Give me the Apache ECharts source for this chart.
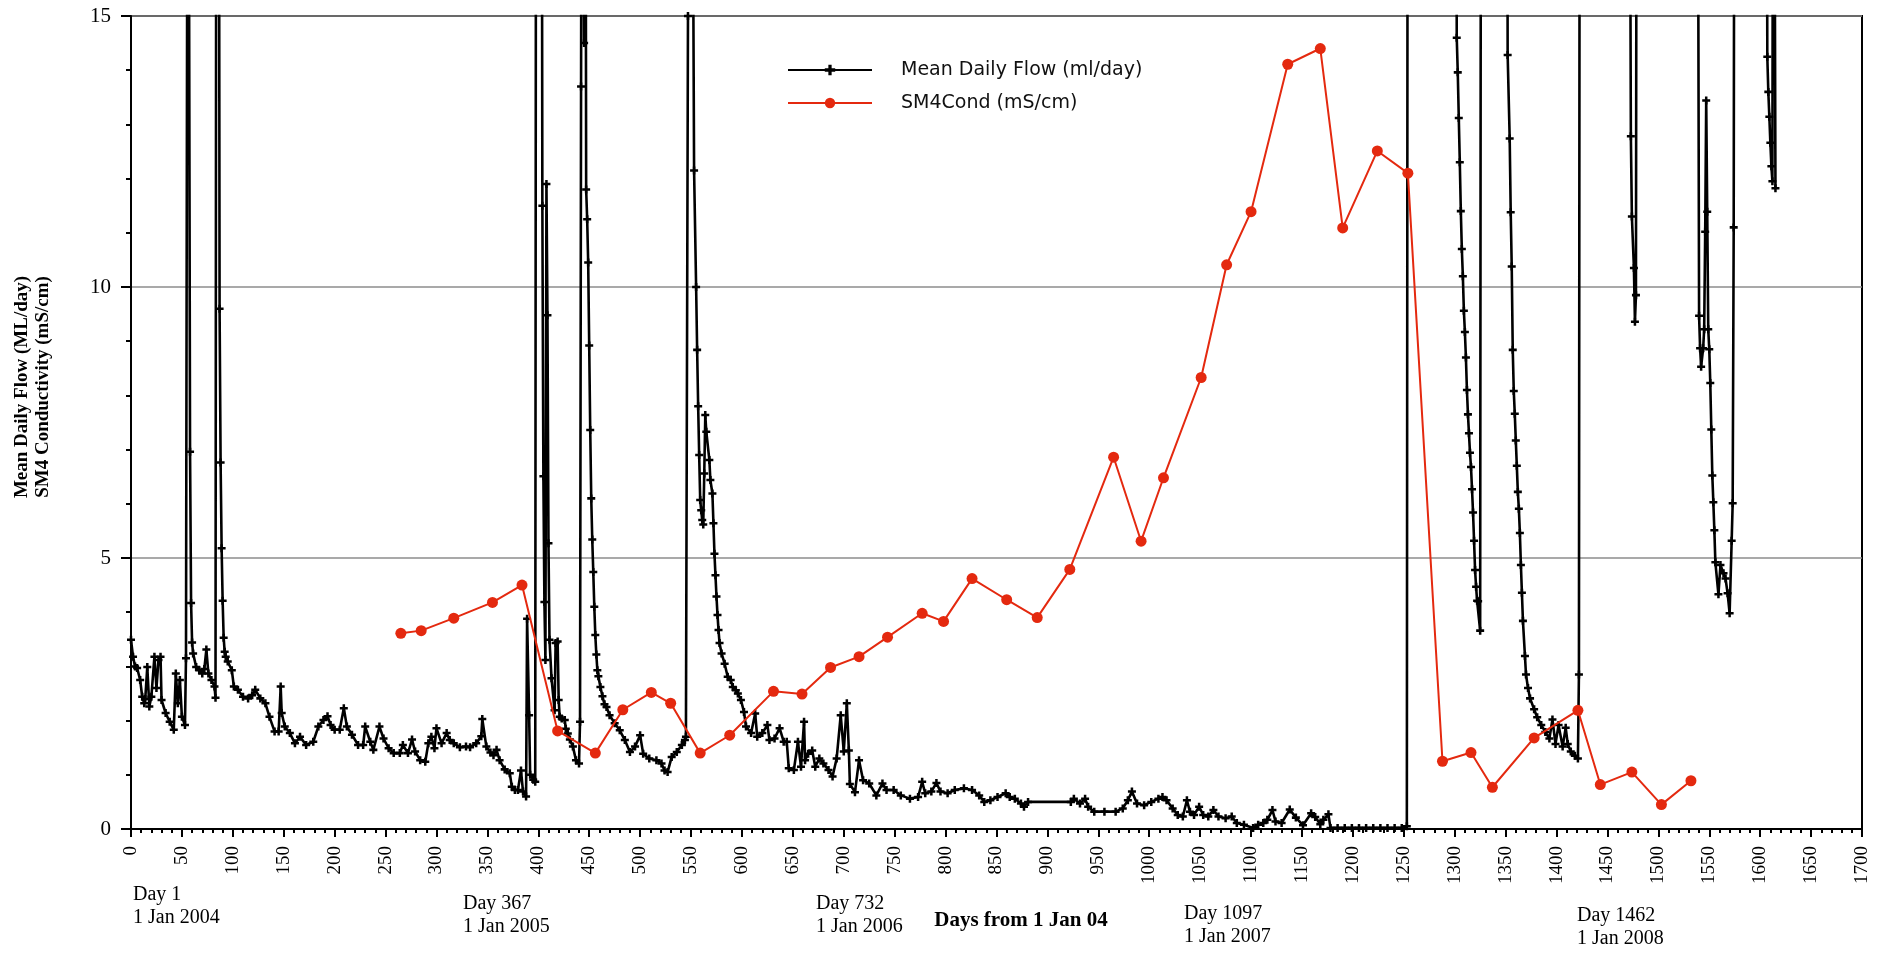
<!DOCTYPE html>
<html>
<head>
<meta charset="utf-8">
<title>Mean Daily Flow and SM4 Conductivity</title>
<script src="https://cdn.jsdelivr.net/npm/echarts@6/dist/echarts.min.js"></script>
<style>
  html, body { margin: 0; padding: 0; background: #ffffff; }
  #chart { width: 1887px; height: 953px; }
</style>
</head>
<body>
<div id="chart"></div>
<script>
// Day number (from 1 Jan 2004) and mean daily flow (ML/day).
// Values above 15 run off the top of the plot and are clipped.
const flowDays = [
  0,2,4,6,9,11,13,14,16,18,20,23,25,27,29,30,34,38,42,44,46,48,50,53,54,56,58,59,60,61,64,67,70,72,74,76,79,82,83,84,86,87,88,89,90,91,92,93,95,99,
  101,105,110,115,119,122,127,132,136,141,145,147,148,151,156,161,166,172,179,184,189,193,196,200,205,209,212,217,223,228,230,235,238,244,248,253,258,264,267,272,276,279,284,289,292,295,298,300,305,310,313,317,323,329,333,339,344,345,349,353,356,359,362,367,372,374,377,380,383,385,388,389,391,392,395,397,
  398,403,404,405,406,407,408,409,410,411,413,416,417,419,420,421,423,426,427,429,431,434,437,440,441,442,443,445,446,447,448,449,450,451,452,453,454,455,456,457,458,459,461,463,465,467,470,475,480,485,490,495,500,503,509,516,521,524,527,531,536,541,544,545,547,550,553,555,556,557,558,559,560,561,562,563,564,565,568,569,571,572,573,574,575,576,577,578,580,583,586,589,591,594,596,599,
  602,604,609,613,615,620,625,627,632,637,641,644,646,651,655,658,661,662,665,669,672,676,680,685,689,693,697,700,703,705,706,711,715,719,725,732,738,742,749,756,765,773,777,780,786,791,795,802,809,818,826,833,838,844,851,859,863,868,874,877,881,923,926,932,937,940,946,956,967,974,979,983,988,995,1002,1009,1013,1017,1023,1028,1033,1037,1040,1044,1049,1053,1058,1063,1068,1075,1081,1086,1093,1102,1107,1112,1116,1121,1124,1130,1138,1144,1151,1159,1163,1168,1171,1176,1178,1185,1192,1199,1206,1213,1220,1227,1234,1241,1248,1253,
  1254,1301,1302,1303,1304,1305,1306,1307,1308,1309,1310,1311,1312,1313,1314,1315,1316,1317,1318,1319,1320,1321,1322,1323,1325,1326,1351,1352,1354,1355,1356,1357,1358,1359,1360,1361,1362,1363,1364,1365,1366,1367,1369,1370,1372,1374,1378,1381,1385,1389,1393,1396,1399,1402,1406,1409,1411,1414,1418,1421,1422,1423,1471,1473,1474,1476,1477,1478,1479,1538,1540,1541,1542,1544,1545,1546,1547,1548,1549,1550,1551,1552,1553,1554,1555,1556,1559,1561,1564,1566,1568,1570,1572,1573,1574,1575,1606,1607,1608,1609,1610,1611,1612,1613,1615
];
const flowValues = [
  3.49,3.18,3.0,2.97,2.75,2.44,2.32,2.40,2.99,2.26,2.44,3.18,2.60,3.12,3.18,2.38,2.14,1.98,1.83,2.87,2.32,2.75,2.07,1.92,3.15,25,6.96,4.17,3.44,3.24,2.99,2.93,2.87,2.95,3.31,2.87,2.75,2.63,2.42,25,25,9.6,6.76,5.18,4.21,3.53,3.27,3.18,3.09,2.93,
  2.63,2.57,2.44,2.41,2.47,2.57,2.41,2.32,2.07,1.80,1.80,2.63,2.14,1.89,1.77,1.58,1.70,1.55,1.61,1.89,2.01,2.08,1.92,1.83,1.83,2.23,1.89,1.74,1.55,1.55,1.89,1.61,1.46,1.89,1.67,1.49,1.40,1.40,1.55,1.40,1.65,1.43,1.27,1.24,1.58,1.70,1.49,1.86,1.58,1.77,1.64,1.58,1.51,1.52,1.51,1.58,1.71,2.03,1.52,1.41,1.36,1.46,1.27,1.10,1.03,0.78,0.72,0.72,1.08,0.69,0.60,3.88,2.10,1.00,0.91,0.87,
  25,25,11.5,6.51,4.19,3.12,11.9,9.48,5.27,3.49,2.78,2.19,3.43,3.46,2.38,2.07,2.04,2.01,1.85,1.76,1.65,1.52,1.27,1.21,1.98,13.7,25,14.5,25,11.8,11.25,10.45,8.92,7.36,6.10,5.34,4.74,4.10,3.58,3.22,2.93,2.82,2.62,2.45,2.30,2.25,2.10,1.95,1.82,1.64,1.42,1.52,1.73,1.39,1.30,1.27,1.21,1.08,1.05,1.33,1.42,1.55,1.64,1.70,15.0,25,12.15,10.0,8.84,7.80,6.90,6.07,5.88,5.70,5.62,6.56,7.64,7.33,6.81,6.44,6.19,5.64,5.08,4.68,4.29,3.95,3.67,3.43,3.24,3.05,2.81,2.75,2.62,2.56,2.50,2.38,
  2.16,1.89,1.77,2.13,1.70,1.77,1.92,1.64,1.67,1.86,1.61,1.61,1.12,1.09,1.61,1.15,1.98,1.27,1.39,1.45,1.15,1.30,1.21,1.09,0.97,1.30,2.10,1.43,2.32,1.45,0.83,0.68,1.27,0.90,0.84,0.62,0.84,0.72,0.72,0.62,0.56,0.59,0.87,0.66,0.69,0.85,0.69,0.66,0.72,0.75,0.72,0.62,0.50,0.53,0.59,0.66,0.59,0.56,0.47,0.41,0.50,0.50,0.56,0.47,0.56,0.41,0.32,0.32,0.32,0.38,0.53,0.69,0.47,0.44,0.50,0.56,0.59,0.53,0.38,0.26,0.23,0.53,0.32,0.26,0.41,0.26,0.23,0.35,0.23,0.20,0.23,0.11,0.08,0.02,0.08,0.11,0.17,0.35,0.14,0.11,0.36,0.21,0.07,0.29,0.22,0.09,0.17,0.27,0.02,0.02,0.02,0.02,0.02,0.02,0.02,0.02,0.02,0.02,0.02,0.05,
  25,25,14.6,13.96,13.12,12.3,11.4,10.7,10.2,9.56,9.17,8.70,8.10,7.65,7.30,6.94,6.68,6.27,5.84,5.32,4.78,4.47,4.21,4.20,3.66,25,25,14.28,12.74,11.38,10.38,8.84,8.08,7.66,7.17,6.70,6.22,5.91,5.46,4.87,4.36,3.84,3.19,2.85,2.60,2.41,2.21,2.06,1.92,1.79,1.67,2.02,1.57,1.92,1.52,1.87,1.57,1.43,1.35,1.30,2.85,25,25,12.78,11.30,10.35,9.36,9.85,25,25,9.47,8.87,8.53,8.87,9.22,11.02,13.44,11.39,9.22,8.85,8.23,7.37,6.52,6.03,5.51,4.92,4.33,4.87,4.72,4.62,4.35,3.98,5.32,6.01,11.10,25,25,14.25,13.60,13.14,12.66,12.23,11.95,25,11.82
];

// SM4 conductivity samples (mS/cm) by day number.
const condDays = [265,285,317,355,384,419,456,483,511,530,559,588,631,659,687,715,743,777,798,826,860,890,922,965,992,1014,1051,1076,1100,1136,1168,1190,1224,1254,1288,1316,1337,1378,1421,1443,1474,1503,1532];
const condValues = [3.61,3.66,3.89,4.18,4.50,1.81,1.40,2.20,2.52,2.32,1.40,1.73,2.54,2.49,2.98,3.18,3.54,3.98,3.83,4.62,4.23,3.90,4.79,6.86,5.31,6.48,8.33,10.41,11.39,14.11,14.40,11.09,12.51,12.10,1.25,1.41,0.77,1.68,2.19,0.82,1.05,0.45,0.89];

// Calendar markers under the axis.
const yearNotes = [
  { line1: 'Day 1',    line2: '1 Jan 2004' },
  { line1: 'Day 367',  line2: '1 Jan 2005' },
  { line1: 'Day 732',  line2: '1 Jan 2006' },
  { line1: 'Day 1097', line2: '1 Jan 2007' },
  { line1: 'Day 1462', line2: '1 Jan 2008' }
];

const seriesNames = ['Mean Daily Flow (ml/day)', 'SM4Cond (mS/cm)'];
const yTitleLines = ['Mean Daily Flow (ML/day)', 'SM4 Conductivity (mS/cm)'];
const xTitle = 'Days from 1 Jan 04';

const SERIF = '"Liberation Serif", "Times New Roman", serif';
const SANS = '"DejaVu Sans", sans-serif';
const RED = '#e4290f';
const PLUS = 'path://M2.4,0H4.6V2.4H7V4.6H4.6V7H2.4V4.6H0V2.4H2.4Z';

const flowData = flowDays.map((d, i) => [d, flowValues[i]]);
const condData = condDays.map((d, i) => [d, condValues[i]]);

// Placement of the calendar notes (pixel anchors below the axis).
const notePos = [[133, 883], [463, 892], [816, 892], [1184, 902], [1577, 904]];
const noteGraphics = [];
yearNotes.forEach((n, i) => {
  noteGraphics.push({
    type: 'text', left: notePos[i][0], top: notePos[i][1], silent: true,
    style: { text: n.line1 + '\n' + n.line2, font: '20px ' + SERIF, lineHeight: 23, fill: '#000' }
  });
});

const chart = echarts.init(document.getElementById('chart'), null, { renderer: 'canvas' });
chart.setOption({
  animation: false,
  backgroundColor: '#ffffff',
  grid: {
    left: 131, right: 25, top: 16, bottom: 124,
    show: true, borderColor: '#000', borderWidth: 2, backgroundColor: 'transparent'
  },
  legend: {
    orient: 'vertical',
    left: 782, top: 55,
    itemWidth: 84, itemHeight: 13, itemGap: 13,
    data: seriesNames,
    textStyle: { fontFamily: SANS, fontSize: 19, lineHeight: 20, color: '#111', padding: [0, 0, 0, 24] }
  },
  xAxis: {
    type: 'value', min: 0, max: 1700, interval: 50,
    axisLine: { show: true, lineStyle: { color: '#000', width: 2 } },
    axisTick: { show: true, length: 8, lineStyle: { color: '#000', width: 2 } },
    minorTick: { show: true, splitNumber: 5, length: 4, lineStyle: { color: '#000', width: 2 } },
    splitLine: { show: false },
    axisLabel: { rotate: 90, margin: 17, fontFamily: SERIF, fontSize: 19, color: '#000', formatter: v => String(v) }
  },
  yAxis: {
    type: 'value', min: 0, max: 15, interval: 5,
    axisLine: { show: true, lineStyle: { color: '#000', width: 2 } },
    axisTick: { show: true, length: 10, lineStyle: { color: '#000', width: 2 } },
    minorTick: { show: true, splitNumber: 5, length: 5, lineStyle: { color: '#000', width: 2 } },
    splitLine: { show: true, lineStyle: { color: '#8c8c8c', width: 1.5 } },
    axisLabel: { margin: 20, fontFamily: SERIF, fontSize: 21, color: '#000', formatter: v => String(v) }
  },
  series: [
    {
      name: seriesNames[0], type: 'line', data: flowData,
      clip: true, symbol: PLUS, symbolSize: 8, showAllSymbol: true,
      itemStyle: { color: '#000' },
      lineStyle: { color: '#000', width: 2.6 },
      z: 2
    },
    {
      name: seriesNames[1], type: 'line', data: condData,
      clip: true, symbol: 'circle', symbolSize: 11,
      itemStyle: { color: RED },
      lineStyle: { color: RED, width: 2 },
      z: 3
    }
  ],
  graphic: [
    {
      type: 'text', x: 33, y: 387, rotation: Math.PI / 2, silent: true,
      style: {
        text: yTitleLines.join('\n'), font: 'bold 19px ' + SERIF, lineHeight: 21,
        fill: '#000', align: 'center', verticalAlign: 'middle'
      }
    },
    {
      type: 'text', x: 1021, y: 921, silent: true,
      style: { text: xTitle, font: 'bold 21px ' + SERIF, fill: '#000', align: 'center', verticalAlign: 'middle' }
    }
  ].concat(noteGraphics)
});
</script>
</body>
</html>
